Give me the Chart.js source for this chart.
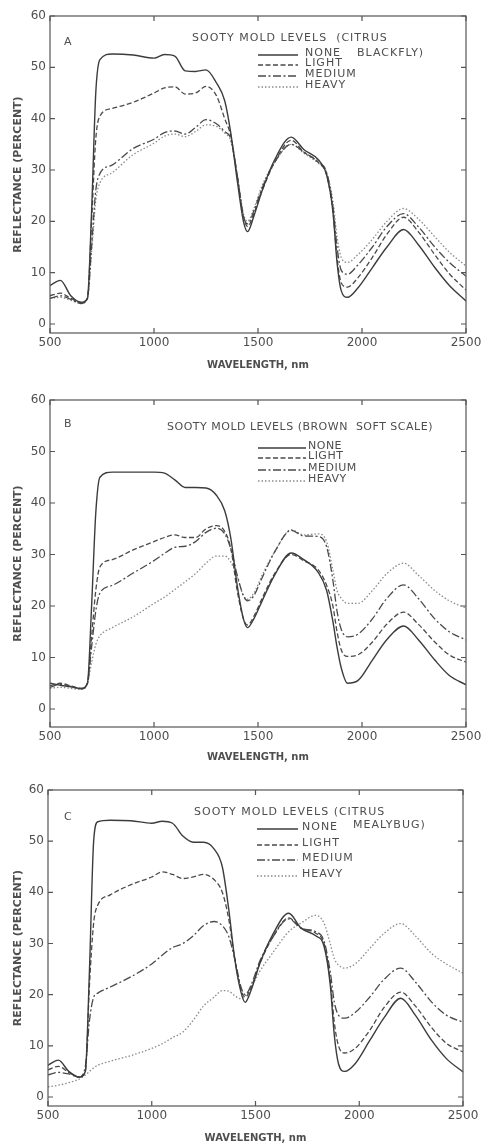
<!DOCTYPE html>
<html>
<head>
<meta charset="utf-8">
<script src="https://cdn.jsdelivr.net/npm/chart.js@4.4.0/dist/chart.umd.min.js"></script>
<style>
  html, body { margin: 0; padding: 0; background: #fff; }
  #wrap { position: relative; width: 488px; height: 1144px; overflow: hidden; }
  canvas { position: absolute; left: 0; }
</style>
</head>
<body>
<div id="wrap">
  <canvas id="chartA"></canvas>
  <canvas id="chartB"></canvas>
  <canvas id="chartC"></canvas>
</div>
<script>
// Wavelength sample points (nm) shared by every curve
const WAVELENGTHS = [500, 550, 600, 650, 680, 700, 720, 740, 800, 900, 1000, 1050, 1100, 1150, 1200, 1250, 1300, 1340, 1370, 1400,
  1430, 1450, 1480, 1520, 1580, 1660, 1720, 1790, 1830, 1860, 1880, 1900, 1930, 1980, 2050, 2120, 2200, 2270, 2350, 2420, 2500];
const LEVELS = ['NONE', 'LIGHT', 'MEDIUM', 'HEAVY'];
const X_TICKS = [500, 1000, 1500, 2000, 2500];
const Y_TICKS = [0, 10, 20, 30, 40, 50, 60];

// A - citrus blackfly
const A_NONE = [7.5, 8.5, 5.5, 4.2, 5, 22, 45, 51.5, 52.6, 52.4, 51.8, 52.5, 52.2, 49.3, 49.2, 49.5, 47, 43.5, 37, 28,
  20, 18, 21, 26, 32, 36.4, 34, 32, 29, 22, 12, 6.5, 5.2, 7, 11, 15, 18.4, 15.5, 11, 7.5, 4.5];
const A_LIGHT = [5.5, 6, 5, 4.2, 5, 20, 36, 40.5, 42, 43.2, 45, 46, 46.2, 44.8, 45, 46.3, 44.5, 40, 36.5, 29,
  21, 19, 21.5, 26, 31.5, 35.8, 33.5, 31.5, 29, 22, 13, 8, 7.2, 9, 13, 17.5, 20.8, 18, 13.5, 9.8, 6.6];
const A_MEDIUM = [5, 5.5, 4.8, 4, 5, 15, 26, 29.3, 31, 34.2, 36, 37.3, 37.6, 37, 38.3, 39.8, 39, 37.5, 36, 29,
  21, 19.5, 22, 26.5, 31.5, 35, 33.5, 31.5, 29.5, 23, 15, 10.5, 9.7, 11.5, 15, 19, 21.5, 19, 15, 12, 9.3];
const A_HEAVY = [5, 5.2, 4.6, 4, 5, 14, 24, 27.5, 29.5, 33, 35.2, 36.6, 37, 36.5, 37.5, 38.8, 38.5, 37.2, 35.5, 29,
  21.5, 20, 22.5, 27, 31.5, 35, 33.3, 31.3, 29.5, 24, 17, 13, 12, 13.5, 16.5, 20, 22.5, 20.5, 17, 14, 11.3];

// B - brown soft scale
const B_NONE = [5, 4.6, 4.3, 4, 5, 20, 38, 45, 46, 46, 46, 45.8, 44.5, 43, 43, 42.9, 41.5, 38.5, 33, 24,
  17.5, 15.8, 17.5, 21, 26, 30.3, 29, 26.5, 23, 17, 12, 8, 5, 5.5, 9.5, 13.5, 16.1, 13.5, 9.5, 6.5, 4.7];
const B_LIGHT = [4.5, 5, 4.5, 4, 5, 14, 23, 27.6, 29, 30.9, 32.5, 33.3, 33.8, 33.3, 33.3, 35, 35.6, 34.5, 31, 23,
  17.5, 16.3, 18, 21.5, 26.3, 30, 28.8, 27, 24, 20, 15, 11.5, 10.2, 10.5, 13, 16.5, 18.8, 16.5, 13, 10.5, 9.1];
const B_MEDIUM = [4.2, 4.8, 4.4, 3.9, 5, 12, 19, 22.5, 24, 26.4, 28.8, 30.2, 31.4, 31.6, 32.5, 34.3, 35.1, 34, 31, 26,
  22, 21, 22, 25.5, 30.5, 34.7, 33.6, 33.5, 31.5, 25, 19, 15.5, 14, 14.5, 17.5, 21.5, 24.1, 21.5, 17.5, 15, 13.4];
const B_HEAVY = [4, 4.2, 4, 3.8, 5, 9, 12.5, 14.2, 15.8, 17.9, 20.5, 21.7, 23.2, 24.7, 26.3, 28.3, 29.7, 29.7, 28.5, 25.5,
  22, 21.3, 22.5, 26, 30.5, 34.8, 33.8, 34, 32.5, 27, 23, 21.5, 20.5, 20.5, 23, 26.3, 28.3, 26, 23, 21, 19.6];

// C - citrus mealybug
const C_NONE = [6.2, 7.2, 5, 3.9, 5, 25, 50, 53.8, 54.1, 54, 53.5, 53.9, 53.5, 51, 49.8, 49.8, 48.5, 45, 37, 27,
  20.5, 18.5, 21, 26, 31.5, 35.9, 33, 31.5, 29.5, 22, 12, 6.5, 5, 6.5, 11, 15.5, 19.3, 16, 11, 7.5, 4.9];
const C_LIGHT = [5.3, 6, 4.8, 3.9, 5, 22, 34, 37.5, 39.5, 41.5, 43, 44, 43.5, 42.7, 43, 43.5, 42.5, 40, 35, 27,
  21, 19.5, 21.5, 26, 31, 35, 33, 32, 30, 23, 14.5, 10, 8.6, 9.5, 13, 17.5, 20.5, 17.8, 13.5, 10.5, 8.8];
const C_MEDIUM = [4.3, 4.8, 4.5, 3.9, 6, 15, 19.5, 20.3, 21.5, 23.5, 26, 27.7, 29.2, 30, 31.5, 33.5, 34.3, 33.5, 31.5, 27,
  21.5, 20, 22, 26.5, 31, 34.8, 33, 32.3, 30.5, 24.5, 18.5, 16, 15.4, 16.5, 19.5, 23, 25.2, 22.5, 18.5, 16, 14.6];
const C_HEAVY = [2, 2.3, 2.8, 3.5, 4.3, 5, 5.7, 6.2, 7, 8.1, 9.5, 10.4, 11.6, 12.7, 15, 17.8, 19.5, 20.8, 20.7, 19.8,
  19.2, 19.8, 21.5, 24.5, 28, 32.3, 34, 35.5, 34, 30, 27, 25.8, 25.2, 26, 29, 32, 33.9, 31.5, 28, 26, 24.2];

const TEXT = '#4e4e4e';
const FONT = '"DejaVu Sans", sans-serif';

// line look per level: solid, dashed, dash-dot, dotted
const STYLES = [
  { color: '#3c3c3c', dash: [], width: 1.4 },
  { color: '#4a4a4a', dash: [5, 2.5], width: 1.3 },
  { color: '#4a4a4a', dash: [8, 2.5, 2, 2.5], width: 1.3 },
  { color: '#8a8a8a', dash: [1.5, 2], width: 1.3 }
];

// frame with inward ticks, like the old paper plots
const framePlugin = {
  id: 'frame',
  afterDatasetsDraw(chart) {
    const { ctx, chartArea: a, scales: { x, y } } = chart;
    const t = 5;
    ctx.save();
    ctx.strokeStyle = '#555';
    ctx.lineWidth = 1.2;
    ctx.strokeRect(a.left, a.top, a.right - a.left, a.bottom - a.top);
    ctx.beginPath();
    Y_TICKS.forEach(v => {
      const py = y.getPixelForValue(v);
      ctx.moveTo(a.left, py); ctx.lineTo(a.left + t, py);
      ctx.moveTo(a.right, py); ctx.lineTo(a.right - t, py);
    });
    X_TICKS.forEach(v => {
      const px = x.getPixelForValue(v);
      ctx.moveTo(px, a.top); ctx.lineTo(px, a.top + t);
      ctx.moveTo(px, a.bottom); ctx.lineTo(px, a.bottom - t);
    });
    ctx.stroke();
    ctx.restore();
  }
};

// panel letter, title and hand-drawn legend inside the plot
const notesPlugin = {
  id: 'notes',
  afterDraw(chart, args, opts) {
    const { ctx } = chart;
    ctx.save();
    ctx.fillStyle = TEXT;
    ctx.textBaseline = 'middle';
    ctx.textAlign = 'left';
    ctx.font = '11px ' + FONT;
    ctx.fillText(opts.letter, opts.letterPos[0], opts.letterPos[1]);
    ctx.letterSpacing = opts.spacing;
    opts.title.forEach(tl => ctx.fillText(tl.text, tl.x, tl.y));
    chart.data.datasets.forEach((ds, i) => {
      const yy = opts.rows[i];
      ctx.strokeStyle = ds.borderColor;
      ctx.lineWidth = ds.borderWidth;
      ctx.setLineDash(ds.borderDash);
      ctx.beginPath();
      ctx.moveTo(opts.lineX[0], yy + 2);
      ctx.lineTo(opts.lineX[1], yy + 2);
      ctx.stroke();
      ctx.setLineDash([]);
      ctx.fillText(ds.label, opts.textX, yy);
    });
    ctx.restore();
  }
};

const panels = [
  {
    id: 'chartA', top: 0, height: 380, padTop: 16, padRight: 22, yWidth: 50, xHeight: 47, titlePad: 9, yMin: -1.75,
    series: [A_NONE, A_LIGHT, A_MEDIUM, A_HEAVY],
    notes: {
      letter: 'A', letterPos: [64, 42], spacing: '1px',
      title: [{ text: 'SOOTY MOLD LEVELS  (CITRUS', x: 192, y: 38 }, { text: 'BLACKFLY)', x: 357, y: 53 }],
      lineX: [258, 298], textX: 305, rows: [53, 63, 74, 85]
    }
  },
  {
    id: 'chartB', top: 384, height: 386, padTop: 16, padRight: 22, yWidth: 50, xHeight: 43, titlePad: 7, yMin: -3.5,
    series: [B_NONE, B_LIGHT, B_MEDIUM, B_HEAVY],
    notes: {
      letter: 'B', letterPos: [64, 40], spacing: '0.5px',
      title: [{ text: 'SOOTY MOLD LEVELS (BROWN  SOFT SCALE)', x: 167, y: 43 }],
      lineX: [258, 306], textX: 308, rows: [62, 72, 84, 95]
    }
  },
  {
    id: 'chartC', top: 770, height: 374, padTop: 20, padRight: 25, yWidth: 48, xHeight: 38, titlePad: 0, yMin: -1.76,
    series: [C_NONE, C_LIGHT, C_MEDIUM, C_HEAVY],
    notes: {
      letter: 'C', letterPos: [64, 47], spacing: '1px',
      title: [{ text: 'SOOTY MOLD LEVELS (CITRUS', x: 194, y: 42 }, { text: 'MEALYBUG)', x: 353, y: 55 }],
      lineX: [257, 298], textX: 302, rows: [57, 73, 88, 104]
    }
  }
];

panels.forEach(p => {
  const canvas = document.getElementById(p.id);
  canvas.width = 488;
  canvas.height = p.height;
  canvas.style.top = p.top + 'px';

  const datasets = p.series.map((vals, i) => ({
    label: LEVELS[i],
    data: WAVELENGTHS.map((w, j) => ({ x: w, y: vals[j] })),
    borderColor: STYLES[i].color,
    borderDash: STYLES[i].dash,
    borderWidth: STYLES[i].width,
    pointRadius: 0,
    fill: false,
    cubicInterpolationMode: 'monotone'
  }));

  new Chart(canvas.getContext('2d'), {
    type: 'line',
    data: { datasets },
    plugins: [framePlugin, notesPlugin],
    options: {
      responsive: false,
      animation: false,
      layout: { padding: { top: p.padTop, right: p.padRight, left: 0, bottom: 0 } },
      plugins: {
        legend: { display: false },
        tooltip: { enabled: false },
        notes: p.notes
      },
      scales: {
        x: {
          type: 'linear',
          min: 500, max: 2500,
          afterBuildTicks: axis => { axis.ticks = X_TICKS.map(v => ({ value: v })); },
          afterFit: scale => { scale.height = p.xHeight; },
          grid: { display: false, drawTicks: false },
          border: { display: false },
          ticks: { color: TEXT, font: { family: FONT, size: 12 }, padding: 3, maxRotation: 0, callback: v => String(v) },
          title: {
            display: true, text: 'WAVELENGTH, nm', color: TEXT,
            font: { family: FONT, size: 10, weight: 'bold' },
            padding: { top: 0, bottom: p.titlePad }
          }
        },
        y: {
          min: p.yMin, max: 60,
          afterBuildTicks: axis => { axis.ticks = Y_TICKS.map(v => ({ value: v })); },
          afterFit: scale => { scale.width = p.yWidth; },
          grid: { display: false, drawTicks: false },
          border: { display: false },
          ticks: { color: TEXT, font: { family: FONT, size: 12 }, padding: 4, callback: v => String(v) },
          title: {
            display: true, text: 'REFLECTANCE (PERCENT)', color: TEXT,
            font: { family: FONT, size: 11, weight: 'bold' },
            padding: { top: 12, bottom: 0 }
          }
        }
      }
    }
  });
});
</script>
</body>
</html>
